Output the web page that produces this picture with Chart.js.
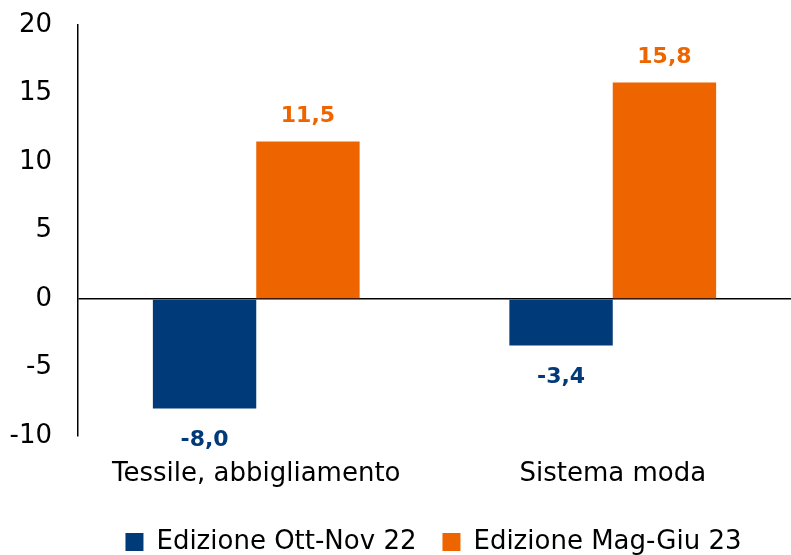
<!DOCTYPE html>
<html>
<head>
<meta charset="utf-8">
<script src="https://cdn.jsdelivr.net/npm/chart.js@4/dist/chart.umd.min.js"></script>
<style>
  html, body { margin: 0; padding: 0; background: #fff; }
  #wrap { width: 791px; height: 555px; }
</style>
</head>
<body>
<div id="wrap"><canvas id="chart"></canvas></div>
<script>
// dati
const categories = ['Tessile, abbigliamento', 'Sistema moda'];
const seriesNames = ['Edizione Ott-Nov 22', 'Edizione Mag-Giu 23'];
const ottNov22 = [-8.0, -3.4];
const magGiu23 = [11.5, 15.8];
const yTicks = [-10, -5, 0, 5, 10, 15, 20];

const FONT = "'Century Gothic', 'DejaVu Sans', sans-serif";
const BLUE = '#003A78';
const ORANGE = '#EE6500';
const PAD_LEFT = 8;

// etichette dei valori sopra/sotto le barre
const valueLabels = {
    id: 'valueLabels',
    afterDatasetsDraw(chart) {
        const ctx = chart.ctx;
        ctx.save();
        ctx.font = 'bold 22px ' + FONT;
        ctx.textAlign = 'center';
        chart.data.datasets.forEach(function (ds, i) {
            const meta = chart.getDatasetMeta(i);
            meta.data.forEach(function (bar, j) {
                const v = ds.data[j];
                const txt = v.toFixed(1).replace('.', ',');
                ctx.fillStyle = ds.backgroundColor;
                if (v >= 0) {
                    ctx.textBaseline = 'bottom';
                    ctx.fillText(txt, bar.x, bar.y - 14);
                } else {
                    ctx.textBaseline = 'top';
                    ctx.fillText(txt, bar.x, bar.y + 21);
                }
            });
        });
        ctx.restore();
    }
};

// sposta la legenda (centrata sull'area del grafico)
const shiftLegend = {
    id: 'shiftLegend',
    afterLayout(chart) {
        const l = chart.legend;
        l.left += 34; l.right += 34;
        l.top += 10; l.bottom += 10;
    }
};

const ctx = document.getElementById('chart').getContext('2d');
new Chart(ctx, {
    type: 'bar',
    data: {
        labels: categories,
        datasets: [
            { label: seriesNames[0], data: ottNov22, backgroundColor: BLUE },
            { label: seriesNames[1], data: magGiu23, backgroundColor: ORANGE }
        ]
    },
    options: {
        responsive: true,
        maintainAspectRatio: false,
        animation: false,
        layout: { padding: { top: 0, right: 0, left: PAD_LEFT, bottom: 0 } },
        datasets: {
            bar: { barPercentage: 1, categoryPercentage: 0.58 }
        },
        scales: {
            x: {
                grid: { display: false },
                border: { display: false },
                afterFit: function (axis) {
                    axis.height = 555 - 436 - axis.chart.legend.height;
                },
                ticks: {
                    color: '#000',
                    font: { family: FONT, size: 26 },
                    padding: 15
                }
            },
            y: {
                min: -10,
                max: 20,
                afterBuildTicks: function (axis) {
                    axis.ticks = yTicks.map(v => ({ value: v }));
                },
                afterFit: function (axis) {
                    axis.width = 78 - PAD_LEFT;
                    axis.paddingTop = 25;
                    axis.paddingBottom = 0;
                },
                grid: {
                    drawTicks: false,
                    color: c => c.tick && c.tick.value === 0 ? '#000' : 'rgba(0,0,0,0)',
                    lineWidth: 1.5
                },
                border: { display: true, color: '#000', width: 1.5 },
                ticks: {
                    color: '#000',
                    font: { family: FONT, size: 26 },
                    padding: 26
                }
            }
        },
        plugins: {
            legend: {
                position: 'bottom',
                labels: {
                    color: '#000',
                    font: { family: FONT, size: 26, lineHeight: 1 },
                    boxWidth: 18,
                    boxHeight: 18,
                    padding: 26
                }
            },
            tooltip: { enabled: false }
        }
    },
    plugins: [valueLabels, shiftLegend]
});
</script>
</body>
</html>
